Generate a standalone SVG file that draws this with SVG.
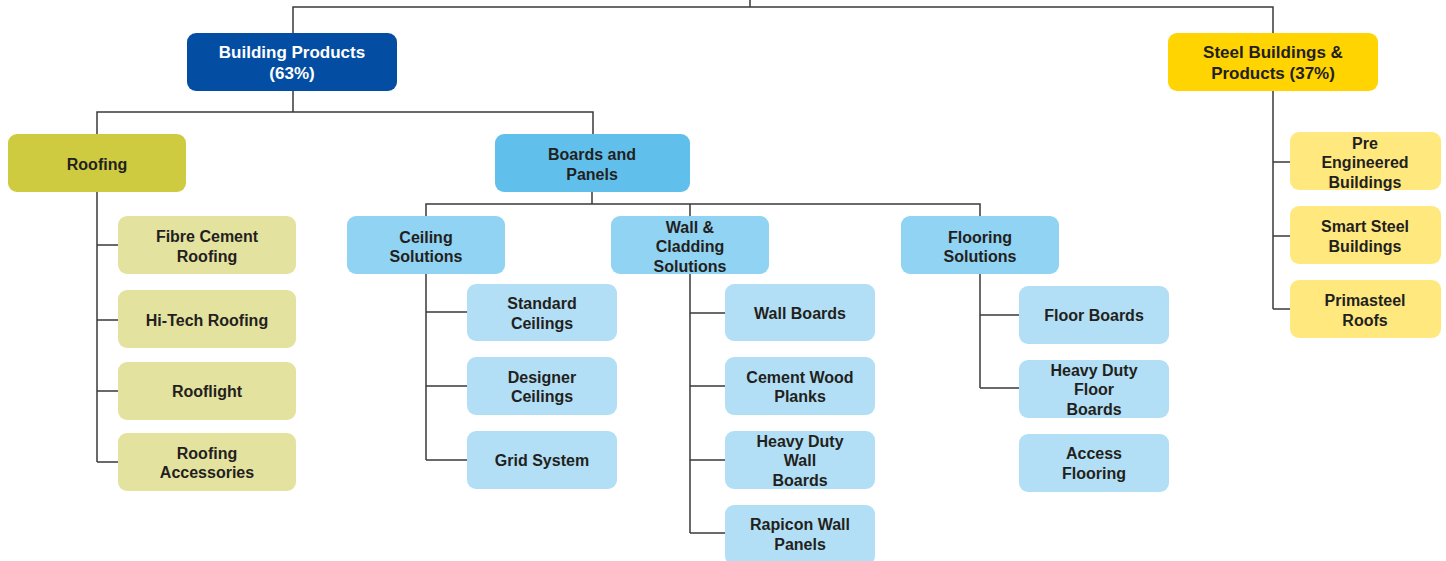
<svg xmlns="http://www.w3.org/2000/svg" width="1446" height="561" viewBox="0 0 1446 561">
<style>
text{font-family:"Liberation Sans",Arial,sans-serif;font-weight:bold;text-anchor:middle;dominant-baseline:central;fill:#231f20;font-size:16px}
.t1{font-size:17px}
.w{fill:#ffffff}
.c path{fill:none;stroke:#3a3a3a;stroke-width:1.5}
.bp{fill:#034ea2}
.sb{fill:#ffd400}
.rf{fill:#cfcb40}
.rfc{fill:#e4e29f}
.bd{fill:#61c0eb}
.bd2{fill:#90d3f2}
.bd3{fill:#b2dff5}
.sc{fill:#ffe97f}
</style>
<g class="c" id="connectors">
<path d="M750 0V7M293 33V7H1273V33"/>
<path d="M293 91V112M97 134V112H593V134"/>
<path d="M97 192V462M97 245H118M97 320H118M97 391H118M97 462H118"/>
<path d="M592 192V204M426 216V204H980V216M690 204V216"/>
<path d="M426 274V460M426 312H467M426 386H467M426 460H467"/>
<path d="M690 274V533M690 313H725M690 386H725M690 460H725M690 533H725"/>
<path d="M980 274V388M980 315H1019M980 388H1019"/>
<path d="M1273 91V309M1273 162H1290M1273 236H1290M1273 309H1290"/>
</g>
<g id="building-products"><rect class="bp" x="187" y="33" width="210" height="58" rx="9"/><text class="t1 w" x="292" y="52">Building Products</text><text class="t1 w" x="292" y="73">(63%)</text></g>
<g id="steel-buildings"><rect class="sb" x="1168" y="33" width="210" height="58" rx="9"/><text class="t1" x="1273" y="52">Steel Buildings &amp;</text><text class="t1" x="1273" y="73">Products (37%)</text></g>
<g id="roofing"><rect class="rf" x="8" y="134" width="178" height="58" rx="9"/><text x="97" y="164">Roofing</text></g>
<g id="fibre-cement"><rect class="rfc" x="118" y="216" width="178" height="58" rx="9"/><text x="207" y="236">Fibre Cement</text><text x="207" y="256">Roofing</text></g>
<g id="hi-tech"><rect class="rfc" x="118" y="290" width="178" height="58" rx="9"/><text x="207" y="320">Hi-Tech Roofing</text></g>
<g id="rooflight"><rect class="rfc" x="118" y="362" width="178" height="58" rx="9"/><text x="207" y="391">Rooflight</text></g>
<g id="roofing-accessories"><rect class="rfc" x="118" y="433" width="178" height="58" rx="9"/><text x="207" y="453">Roofing</text><text x="207" y="472">Accessories</text></g>
<g id="boards-panels"><rect class="bd" x="495" y="134" width="195" height="58" rx="9"/><text x="592" y="154">Boards and</text><text x="592" y="174">Panels</text></g>
<g id="ceiling"><rect class="bd2" x="347" y="216" width="158" height="58" rx="9"/><text x="426" y="237">Ceiling</text><text x="426" y="256">Solutions</text></g>
<g id="wall-cladding"><rect class="bd2" x="611" y="216" width="158" height="58" rx="9"/><text x="690" y="227">Wall &amp;</text><text x="690" y="246">Cladding</text><text x="690" y="266">Solutions</text></g>
<g id="flooring"><rect class="bd2" x="901" y="216" width="158" height="58" rx="9"/><text x="980" y="237">Flooring</text><text x="980" y="256">Solutions</text></g>
<g id="standard-ceilings"><rect class="bd3" x="467" y="284" width="150" height="57" rx="9"/><text x="542" y="303">Standard</text><text x="542" y="323">Ceilings</text></g>
<g id="designer-ceilings"><rect class="bd3" x="467" y="357" width="150" height="58" rx="9"/><text x="542" y="377">Designer</text><text x="542" y="396">Ceilings</text></g>
<g id="grid-system"><rect class="bd3" x="467" y="431" width="150" height="58" rx="9"/><text x="542" y="460">Grid System</text></g>
<g id="wall-boards"><rect class="bd3" x="725" y="284" width="150" height="57" rx="9"/><text x="800" y="313">Wall Boards</text></g>
<g id="cement-wood"><rect class="bd3" x="725" y="357" width="150" height="58" rx="9"/><text x="800" y="377">Cement Wood</text><text x="800" y="396">Planks</text></g>
<g id="heavy-duty-wall"><rect class="bd3" x="725" y="431" width="150" height="58" rx="9"/><text x="800" y="441">Heavy Duty</text><text x="800" y="460">Wall</text><text x="800" y="480">Boards</text></g>
<g id="rapicon"><rect class="bd3" x="725" y="505" width="150" height="60" rx="9"/><text x="800" y="524">Rapicon Wall</text><text x="800" y="544">Panels</text></g>
<g id="floor-boards"><rect class="bd3" x="1019" y="286" width="150" height="58" rx="9"/><text x="1094" y="315">Floor Boards</text></g>
<g id="heavy-duty-floor"><rect class="bd3" x="1019" y="360" width="150" height="58" rx="9"/><text x="1094" y="370">Heavy Duty</text><text x="1094" y="389">Floor</text><text x="1094" y="409">Boards</text></g>
<g id="access-flooring"><rect class="bd3" x="1019" y="434" width="150" height="58" rx="9"/><text x="1094" y="453">Access</text><text x="1094" y="473">Flooring</text></g>
<g id="pre-engineered"><rect class="sc" x="1290" y="132" width="151" height="58" rx="9"/><text x="1365" y="143">Pre</text><text x="1365" y="162">Engineered</text><text x="1365" y="182">Buildings</text></g>
<g id="smart-steel"><rect class="sc" x="1290" y="206" width="151" height="58" rx="9"/><text x="1365" y="226">Smart Steel</text><text x="1365" y="246">Buildings</text></g>
<g id="primasteel"><rect class="sc" x="1290" y="280" width="151" height="58" rx="9"/><text x="1365" y="300">Primasteel</text><text x="1365" y="320">Roofs</text></g>
</svg>
